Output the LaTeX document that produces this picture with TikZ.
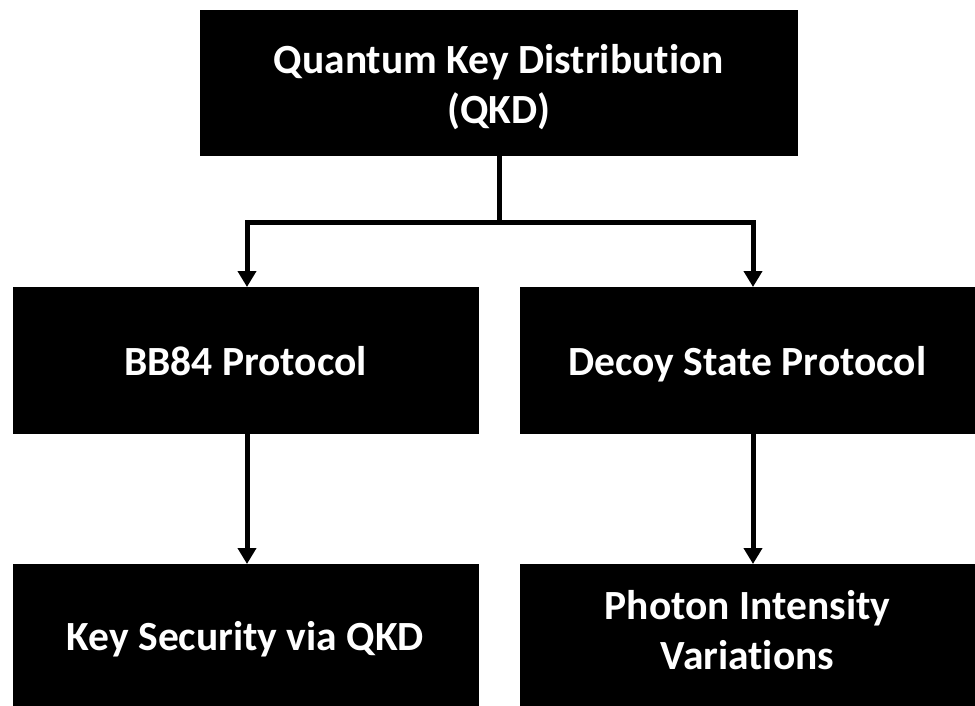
\documentclass[tikz,border=0pt]{standalone}
\usepackage{fontspec}
\setmainfont[Ligatures={NoCommon}]{Carlito}
\usetikzlibrary{arrows.meta}
\begin{document}
\begin{tikzpicture}[x=1pt,y=-1pt,
  box/.style={fill=black,draw=black,text=white,font=\bfseries\fontsize{41.5}{50}\selectfont,align=center,inner sep=0pt},
  conn/.style={line width=5pt,-{Triangle[width=18pt,length=16pt]}}]
\useasboundingbox (0,0) rectangle (975,706);
\path[box] (200.5,10) rectangle (797,155.5);
\node[box] (qkd) at (498.75,87.5) {Quantum Key Distribution\\(QKD)};
\path[box] (13,287) rectangle (478,433);
\node[box,anchor=base] (bb) at (245.5,375) {BB84 Protocol};
\path[box] (520,287) rectangle (985,433);
\node[box,anchor=base] (decoy) at (747.5,375) {Decoy State Protocol};
\path[box] (13,564) rectangle (478,716);
\node[box,anchor=base] (key) at (245.5,650) {Key Security via QKD};
\path[box] (520,564) rectangle (985,716);
\node[box] (photon) at (747.5,630) {Photon Intensity\\Variations};
\coordinate (qb) at (499,155.5);
\coordinate (bbt) at (247,287);
\coordinate (det) at (753,287);
\coordinate (bbb) at (247,433);
\coordinate (keyt) at (247,564);
\coordinate (deb) at (753,433);
\coordinate (pht) at (753,564);
\draw[line width=5pt] (qb) -- (499,222);
\draw[conn] (499,222) -| (bbt);
\draw[conn] (499,222) -| (det);
\draw[conn] (bbb) -- (keyt);
\draw[conn] (deb) -- (pht);
\end{tikzpicture}
\end{document}
